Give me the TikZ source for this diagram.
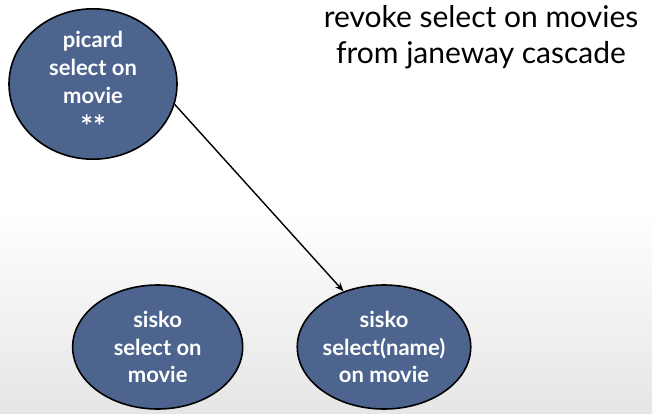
\documentclass[tikz,border=0pt]{standalone}
\usepackage{fontspec}
\setmainfont{Lato}
\usetikzlibrary{positioning, arrows.meta, shapes.geometric}

\definecolor{grantblue}{RGB}{77,100,142}

\begin{document}
\begin{tikzpicture}[x=1pt, y=-1pt, node distance=10pt]
    \shade[top color=white, bottom color=black!10, middle color=white]
        (0,0) rectangle (652,414);
    \useasboundingbox (0,0) rectangle (652,414);

    \node[draw, line width=1.6pt, ellipse, fill=grantblue, text=white, align=center,
          minimum width=168pt, minimum height=130pt, inner sep=0pt,
          font=\bfseries\fontsize{22}{28}\selectfont]
          at (93,84) (picard) {picard\\select on\\movie\\[6pt]{\fontsize{30}{28}\selectfont **}};
    \node[draw, line width=1.6pt, ellipse, fill=grantblue, text=white, align=center,
          minimum width=172pt, minimum height=124pt, inner sep=0pt,
          font=\bfseries\fontsize{22}{27.5}\selectfont]
          at (384,347) (sisko 2) {sisko\\select(name)\\on movie};
    \node[draw, line width=1.6pt, ellipse, fill=grantblue, text=white, align=center,
          minimum width=170pt, minimum height=124pt, inner sep=0pt,
          font=\bfseries\fontsize{22}{27.5}\selectfont,
          left=53pt of sisko 2] (sisko 1) {sisko\\select on\\movie};

    \node[align=center, font=\fontsize{30}{36}\selectfont]
          at (481,37) (title) {revoke select on movies\\from janeway cascade};

    \draw[line width=1.4pt, -{Stealth[length=9pt, width=7pt]}] (picard.-14) -- (sisko 2.126);
\end{tikzpicture}
\end{document}
